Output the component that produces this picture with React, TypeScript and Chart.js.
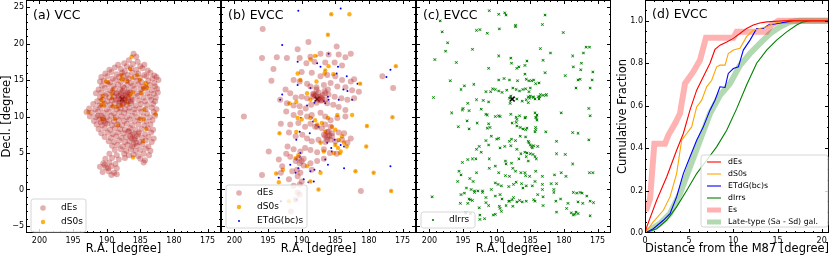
import React, { useEffect, useRef } from 'react';
import { Chart, registerables } from 'chart.js';
Chart.register(...registerables);

type Pt = [number, number];
const FONT = '"DejaVu Sans", "Liberation Sans", sans-serif';

// ---------------- tick labels ----------------
const RA_TICKS = [200, 195, 190, 185, 180, 175];
const DEC_TICKS = [-5, 0, 5, 10, 15, 20, 25];
const DIST_TICKS = [0, 5, 10, 15, 20];
const FRAC_TICKS = [0, 0.2, 0.4, 0.6, 0.8, 1.0];

// ---------------- M87 ----------------
const M87: Pt[] = [[187.7, 12.39]];

// ---------------- (a) VCC ----------------
const vccDEs: Pt[] = [
  [186.0,18.6],[185.6,18.2],[186.7,17.7],[185.4,17.5],[187.4,17.3],
  [188.3,17.1],[187.0,16.9],[186.1,17.2],[185.0,16.9],[184.4,17.1],
  [189.6,16.4],[188.8,16.7],[187.9,16.5],[187.3,16.2],[186.4,16.6],[185.6,16.4],[184.7,16.6],[183.9,16.3],
  [190.2,15.9],[189.3,16.1],[188.5,15.8],[187.7,16.0],[186.9,15.7],[186.2,16.0],[185.3,15.9],[184.4,15.7],[183.5,16.0],[182.9,15.6],
  [190.8,15.4],[189.9,15.5],[189.1,15.2],[188.2,15.4],[187.5,15.5],[186.7,15.2],[185.8,15.4],[185.0,15.3],[184.1,15.5],[183.2,15.2],[182.6,15.4],
  [191.0,14.8],[190.4,14.9],[189.5,14.7],[188.7,15.0],[187.9,14.8],[187.1,14.9],[186.4,14.6],[185.6,14.9],[184.8,14.7],[183.8,14.9],[182.9,14.6],[182.3,15.0],
  [190.7,14.2],[189.8,14.4],[189.0,14.2],[188.3,14.4],[187.6,14.1],[186.9,14.3],[186.1,14.2],[185.3,14.4],[184.5,14.1],[183.6,14.3],[182.8,14.1],
  [191.2,13.7],[190.3,13.9],[189.5,13.6],[188.8,13.8],[188.0,13.7],[187.4,13.9],[186.7,13.6],[185.9,13.8],[185.0,13.7],[184.2,13.9],[183.3,13.6],[182.5,13.8],
  [191.6,13.2],[190.8,13.3],[190.0,13.1],[189.2,13.3],[188.5,13.2],[187.8,13.3],[187.1,13.1],[186.5,13.3],[185.6,13.1],[184.8,13.3],[183.9,13.2],[183.0,13.1],[182.4,13.3],
  [191.0,12.6],[190.2,12.8],[189.6,12.6],[188.9,12.7],[188.2,12.8],[187.6,12.6],[187.0,12.8],[186.3,12.6],[185.4,12.8],[184.5,12.6],[183.6,12.7],[182.7,12.6],
  [191.4,12.1],[190.6,12.3],[189.9,12.1],[189.2,12.2],[188.6,12.3],[188.0,12.1],[187.4,12.3],[186.8,12.1],[186.1,12.3],[185.2,12.2],[184.3,12.1],[183.4,12.3],[182.8,12.1],
  [192.0,11.7],[191.1,11.5],[190.3,11.7],[189.5,11.6],[188.8,11.8],[188.2,11.5],[187.6,11.7],[187.0,11.6],[186.4,11.8],[185.7,11.5],[184.9,11.7],[184.0,11.6],[183.1,11.7],
  [192.6,11.1],[191.7,11.0],[190.9,11.2],[190.0,11.0],[189.2,11.2],[188.5,11.0],[187.9,11.1],[187.3,11.0],[186.6,11.2],[185.9,11.0],[185.1,11.1],[184.2,11.0],[183.3,11.2],[182.6,11.0],
  [193.0,10.6],[192.2,10.5],[191.3,10.7],[190.5,10.5],[189.7,10.6],[188.9,10.4],[188.1,10.6],[187.4,10.5],[186.7,10.7],[185.8,10.5],[184.9,10.6],[184.0,10.4],[183.0,10.6],
  [192.5,10.0],[191.6,9.9],[190.8,10.1],[190.0,9.9],[189.3,10.1],[188.6,9.9],[187.8,10.0],[187.0,9.9],[186.2,10.1],[185.4,9.9],[184.5,10.0],[183.6,9.9],[182.8,10.1],
  [191.9,9.4],[191.1,9.6],[190.4,9.4],[189.6,9.5],[188.9,9.3],[188.2,9.5],[187.4,9.4],[186.6,9.6],[185.8,9.4],[185.0,9.5],[184.1,9.3],[183.2,9.5],
  [191.5,8.9],[190.7,8.8],[189.9,9.0],[189.2,8.8],[188.4,8.9],[187.7,8.8],[187.0,9.0],[186.2,8.8],[185.3,8.9],[184.4,8.8],[183.5,8.9],
  [191.2,8.3],[190.3,8.4],[189.5,8.2],[188.8,8.4],[188.0,8.3],[187.3,8.2],[186.5,8.4],[185.7,8.2],[184.8,8.3],[183.9,8.4],[183.1,8.2],
  [190.8,7.7],[189.9,7.8],[189.1,7.6],[188.3,7.8],[187.5,7.7],[186.8,7.9],[186.0,7.7],[185.2,7.8],[184.3,7.6],[183.4,7.8],
  [190.3,7.2],[189.4,7.1],[188.6,7.3],[187.8,7.1],[187.1,7.2],[186.3,7.0],[185.5,7.3],[184.7,7.1],[183.8,7.2],[183.0,7.0],
  [189.7,6.6],[188.9,6.5],[188.1,6.7],[187.3,6.5],[186.6,6.6],[185.9,6.8],[185.1,6.5],[184.2,6.7],[183.3,6.5],
  [189.2,6.0],[188.4,6.1],[187.6,5.9],[186.9,6.1],[186.2,5.9],[185.5,6.0],[184.7,6.2],[183.8,5.9],
  [188.8,5.4],[187.9,5.5],[187.1,5.3],[186.4,5.5],[185.7,5.3],[185.0,5.4],[184.2,5.6],[183.5,5.3],
  [189.6,4.9],[188.5,4.7],[187.4,4.9],[186.7,4.7],[186.0,4.8],[185.3,4.6],[184.5,4.9],[183.7,4.7],
  [190.2,4.2],[189.2,4.3],[188.2,4.1],[187.3,4.3],[185.0,4.2],[184.3,4.0],
  [190.5,3.6],[189.6,3.7],[188.7,3.5],[184.5,3.7],
  [191.0,3.1],[190.1,3.0],[189.3,3.2],[188.5,2.9],
  [190.6,2.4],[189.7,2.5],[188.9,2.3],
  [189.3,2.0],[188.5,2.1],
  [187.8,12.6],[187.4,12.2],[187.9,13.0],[187.2,12.9],[188.3,12.4],[186.8,12.5],[187.5,11.8],[188.1,11.9],[186.9,13.3],[187.6,13.5],[188.6,13.1],[186.4,12.1],
  [186.2,7.5],[185.8,7.0],[186.5,7.3],[185.6,6.4],[186.0,6.2],[185.3,7.6],[186.7,8.0],
  [190.5,9.8],[190.9,9.2],[191.3,10.1],[190.2,9.1],[190.3,3.4],[189.8,2.9],
];

const vccDS0s: Pt[] = [
  [186.3,18.2],[186.5,16.5],[187.8,15.7],[190.1,14.8],[189.8,14.7],[187.8,15.1],[187.5,15.1],[185.5,15.7],
  [186.2,15.3],[185.1,15.0],[184.1,14.45],[184.2,14.6],[186.9,14.8],[189.1,13.7],[189.2,13.1],[189.2,12.5],
  [190.6,12.8],[190.8,12.3],[190.6,11.9],[190.8,11.6],[190.4,11.5],[189.1,11.4],[188.5,11.3],[187.8,11.5],
  [187.1,12.4],[186.9,11.9],[186.6,12.9],[186.4,13.1],[186.1,13.3],[184.6,13.9],[184.0,13.9],[184.9,13.2],
  [184.5,13.8],[184.4,10.95],[192.7,10.6],[188.8,9.7],[190.7,9.7],[190.4,9.6],[188.3,8.8],[185.1,9.7],
  [184.5,9.6],[182.7,10.3],[184.1,8.3],[184.6,6.6],[186.1,4.4],
];

// ---------------- (b) EVCC ----------------
const evccDEs: Pt[] = [
  [195.8,22.0],[189.0,20.2],[184.8,19.6],[195.9,18.0],[193.7,18.1],[190.6,19.2],[194.2,16.5],[194.5,14.9],
  [198.6,10.0],[195.9,2.0],[192.2,18.0],[190.3,18.0],[188.7,18.2],[187.2,18.6],[186.0,18.5],[184.5,18.5],
  [183.5,18.1],[182.7,18.6],[190.0,16.1],[188.5,16.0],[187.2,15.5],[186.2,15.7],[185.0,15.5],[184.0,15.0],
  [182.7,14.8],[182.2,15.1],[178.0,15.5],[176.4,13.9],[189.3,17.3],[188.1,17.5],[186.5,17.4],[185.1,17.4],
  [184.0,17.0],[191.2,15.0],[190.3,14.8],[189.2,14.5],[188.7,14.1],[187.8,14.0],[186.7,14.3],[185.7,14.6],
  [184.7,14.1],[183.5,14.0],[182.5,13.6],[181.5,13.4],[192.4,13.7],[191.7,13.2],[190.9,12.6],[190.0,12.7],
  [189.2,12.5],[188.2,13.0],[187.5,13.3],[186.6,13.5],[186.0,13.0],[185.1,12.7],[184.1,12.5],[183.2,12.3],
  [182.2,12.5],[193.2,12.3],[192.2,11.8],[191.2,11.5],[190.3,11.4],[189.4,11.1],[188.6,11.6],[187.8,11.9],
  [187.0,12.2],[186.2,11.8],[185.3,11.6],[184.5,11.3],[183.5,10.9],[192.3,10.7],[191.2,10.2],[190.2,10.5],
  [189.2,10.0],[188.5,10.2],[187.2,10.5],[186.5,10.0],[185.7,9.5],[184.7,9.8],[183.5,10.0],[193.1,9.0],
  [191.7,8.9],[190.5,9.1],[189.5,8.6],[188.7,9.0],[187.7,8.6],[187.0,8.4],[186.2,7.9],[185.5,7.7],
  [184.5,7.8],[183.7,7.7],[182.7,7.0],[191.9,7.8],[190.9,7.3],[189.9,7.5],[189.2,7.0],[188.5,6.6],
  [187.5,6.8],[186.5,7.3],[185.7,6.8],[185.0,6.6],[184.0,6.8],[183.2,6.4],[192.1,5.9],[191.2,5.5],
  [190.2,5.2],[189.5,5.7],[188.7,5.4],[187.7,5.1],[186.7,5.5],[185.8,5.0],[184.8,4.9],[192.3,4.9],
  [193.4,4.1],[191.7,4.5],[190.9,3.9],[190.3,3.6],[189.7,4.2],[188.7,3.6],[187.7,3.9],[186.7,4.2],
  [190.7,2.7],[190.2,2.3],[191.4,2.5],[192.9,3.2],[191.9,1.4],[190.6,1.8],[190.0,1.1],[191.2,0.5],
  [190.3,0.7],[193.1,2.3],[188.5,2.7],[194.9,5.2],[181.2,-0.2],[190.6,-0.4],[190.9,-1.4],[191.6,-3.0],
  [190.3,-0.7],[187.0,12.5],[186.5,13.2],[186.1,13.7],[187.8,13.7],[187.2,12.7],[188.3,12.7],[187.5,12.3],
  [186.5,12.3],[188.0,8.6],[186.0,7.9],[186.7,7.5],[185.5,7.3],[186.2,6.8],[186.5,8.9],[185.7,8.6],
  [188.0,12.8],[187.5,12.6],[187.9,13.0],[187.2,12.2],[186.9,12.9],[188.3,13.1],[186.2,7.2],[186.5,6.5],
  [185.9,7.4],[190.4,4.3],[190.0,3.9],[189.7,3.3],
];

const evccDS0s: Pt[] = [
  [185.6,24.0],[182.9,24.0],[186.1,21.2],[188.0,18.3],[188.7,17.8],[186.5,16.3],[186.6,15.9],[185.3,15.8],
  [186.0,16.9],[190.6,15.9],[190.2,15.0],[181.3,14.5],[176.0,16.9],[187.8,14.8],[191.8,11.8],[190.8,12.0],
  [189.2,13.2],[188.7,12.3],[190.6,9.8],[190.0,9.6],[188.7,9.8],[188.0,9.5],[187.7,8.9],[187.0,9.1],
  [186.1,9.8],[184.7,10.2],[182.5,10.2],[180.3,8.7],[176.5,9.9],[193.3,7.7],[190.8,7.9],[185.5,8.6],
  [185.0,8.2],[186.5,7.9],[187.2,6.4],[186.7,5.2],[185.0,6.1],[184.6,5.7],[184.3,5.0],[185.2,5.0],
  [184.5,6.8],[184.0,7.3],[183.7,6.4],[183.3,5.9],[184.2,5.2],[192.8,2.7],[189.2,3.2],[187.2,2.3],
  [182.0,2.5],[179.3,2.3],[188.7,1.1],[187.5,0.0],[180.4,5.9],[190.5,4.7],[190.9,4.3],[176.7,-0.2],
  [191.9,-1.6],[193.8,2.2],[193.4,1.0],
];

const evccETdG: Pt[] = [
  [190.5,24.5],[184.2,24.8],[192.9,19.8],[190.6,17.5],[187.8,18.3],[187.7,17.3],[187.2,16.8],[186.5,16.3],
  [186.0,18.6],[184.8,15.9],[183.3,15.5],[181.7,14.5],[184.6,16.8],[176.8,16.4],[177.4,15.4],[192.9,13.0],
  [193.2,12.3],[190.6,14.3],[188.7,13.9],[186.1,12.7],[186.7,12.1],[186.5,11.8],[186.0,12.3],[188.1,11.9],
  [189.2,11.5],[182.5,12.3],[184.5,12.3],[183.2,13.5],[183.8,13.7],[190.1,9.8],[188.5,9.8],[187.5,8.6],
  [188.3,9.3],[190.3,7.9],[190.8,6.8],[188.8,7.7],[186.2,6.4],[185.1,6.8],[184.5,6.6],[184.2,6.1],
  [183.7,5.9],[185.6,5.7],[185.5,5.2],[190.3,4.5],[190.8,4.1],[190.2,5.0],[191.7,3.4],[190.5,2.9],
  [188.7,2.5],[188.1,2.7],[187.3,2.5],[186.5,4.1],[186.1,3.4],[183.7,2.9],[176.8,3.2],[193.7,2.2],
  [193.4,1.6],[190.9,2.3],[189.7,1.4],[189.0,1.0],[188.2,1.1],[193.1,-1.6],[190.8,-1.4],
  [185.6,24.0],[186.1,21.2],[176.0,16.9],[180.3,8.7],[176.5,9.9],[180.4,5.9],[179.3,2.3],[182.0,2.5],
  [176.7,-0.2],[187.5,0.0],[193.3,7.7],[181.3,14.5],[184.3,5.0],[185.0,6.1],[187.2,6.4],[188.7,1.1],[190.9,4.3],
];

// ---------------- (c) EVCC dIrrs ----------------
const evccDIrrs: Pt[] = [
  [191.1,24.5],[189.7,24.0],[188.8,24.2],[188.6,23.9],[182.8,23.9],[198.4,23.1],[187.2,22.5],[187.2,22.3],
  [183.2,22.6],[198.1,21.6],[193.0,21.8],[192.5,21.9],[191.4,21.4],[189.6,22.0],[180.1,21.5],[197.3,20.1],
  [197.6,18.95],[193.6,19.2],[183.5,19.3],[182.0,18.7],[176.7,19.5],[176.2,19.5],[177.1,18.7],[199.2,17.8],
  [196.0,17.4],[189.7,18.3],[187.9,18.0],[185.5,17.6],[183.1,17.7],[178.7,18.3],[187.8,17.3],[187.0,16.6],
  [186.7,16.8],[185.8,17.0],[191.2,16.6],[178.6,16.8],[177.4,17.3],[177.5,16.4],[175.7,16.1],[182.8,16.0],
  [185.8,15.8],[179.8,15.6],[177.9,15.0],[177.6,15.1],[196.9,14.9],[193.4,14.4],[189.7,15.0],[188.9,15.2],
  [188.1,15.0],[186.9,14.9],[185.6,15.1],[185.2,14.9],[184.8,14.9],[184.5,15.0],[184.2,14.5],[183.7,14.6],
  [195.3,13.7],[194.8,14.2],[190.6,13.8],[190.2,13.7],[189.7,13.5],[189.2,13.3],[188.5,13.6],[187.6,13.9],
  [187.1,13.7],[186.6,13.5],[186.1,13.7],[185.7,13.8],[185.2,13.4],[185.0,13.9],[183.5,13.0],[183.1,12.9],
  [182.7,12.9],[182.6,13.0],[185.3,12.7],[185.0,12.8],[184.6,12.7],[183.8,12.7],[183.7,12.4],[178.2,13.9],
  [176.1,13.9],[175.8,15.0],[191.6,13.4],[190.9,13.4],[199.4,12.6],[193.0,12.3],[192.0,12.2],[191.2,12.0],
  [194.3,11.8],[188.1,12.5],[187.9,12.8],[188.0,11.8],[187.0,12.4],[186.2,12.1],[185.6,12.3],[185.3,11.9],
  [185.1,12.5],[184.5,12.6],[184.3,12.4],[183.6,12.7],[195.0,11.1],[195.1,10.9],[194.1,10.8],[192.3,11.0],
  [191.4,10.2],[191.6,10.3],[190.2,10.0],[189.7,10.1],[189.5,10.0],[187.9,10.3],[187.1,9.9],[187.0,9.6],
  [186.6,10.1],[185.8,9.8],[185.7,9.9],[184.3,10.5],[184.2,9.9],[184.1,9.8],[184.0,10.2],[184.0,9.5],
  [196.7,10.5],[195.7,8.6],[194.4,9.4],[194.1,8.3],[192.9,9.1],[191.2,9.0],[191.4,8.4],[191.0,8.5],
  [187.7,9.1],[187.1,9.2],[187.0,8.7],[186.5,8.5],[186.1,8.3],[185.7,8.2],[185.5,8.4],[184.2,8.5],
  [184.3,7.9],[184.2,8.2],[176.1,10.1],[176.3,11.1],[180.4,10.5],[190.0,6.9],[189.7,7.0],[190.8,7.3],
  [191.2,6.1],[191.6,6.7],[192.6,5.9],[193.0,5.5],[192.3,5.1],[189.5,5.7],[188.8,5.9],[187.9,6.0],
  [187.2,6.7],[186.5,7.3],[185.7,7.2],[185.3,6.6],[185.2,6.4],[185.0,6.1],[184.8,5.9],[184.7,5.7],
  [184.5,6.0],[183.9,5.9],[187.0,5.5],[186.4,4.9],[185.8,5.1],[185.5,5.0],[185.0,4.9],[184.6,4.8],
  [184.3,4.5],[187.8,6.9],[188.1,6.6],[182.7,7.9],[178.7,7.8],[177.9,7.7],[181.1,6.6],[176.3,6.8],
  [181.1,4.9],[179.8,4.8],[195.1,3.7],[194.3,4.1],[193.6,4.2],[193.1,4.2],[191.1,4.2],[188.7,3.9],
  [188.6,3.5],[187.8,3.6],[186.7,4.2],[185.6,4.5],[185.3,3.9],[184.1,4.2],[195.6,2.5],[195.3,2.0],
  [195.8,1.1],[194.0,1.5],[193.5,1.1],[193.0,2.3],[191.1,2.9],[190.2,3.2],[189.7,2.3],[188.7,1.9],
  [188.1,1.8],[187.6,2.9],[187.2,2.5],[186.4,2.3],[185.8,2.3],[185.7,1.9],[185.1,1.8],[184.2,2.5],
  [183.2,1.8],[181.4,2.0],[180.4,2.3],[179.7,1.8],[178.7,3.5],[176.2,2.3],[175.7,2.3],[194.5,0.2],
  [193.8,0.0],[193.3,-0.2],[192.8,-0.2],[192.1,-0.2],[190.8,0.0],[190.2,0.9],[189.8,0.7],[189.3,0.5],
  [188.2,0.4],[187.5,0.7],[187.1,1.0],[186.3,0.8],[186.1,0.2],[185.6,0.5],[184.7,0.5],[184.3,1.1],
  [183.2,0.7],[183.2,0.0],[181.9,0.8],[181.5,0.0],[181.5,-0.4],[181.1,0.8],[178.6,-0.4],[178.1,-0.5],
  [177.6,-0.4],[177.3,-0.5],[176.6,-0.9],[199.6,-1.0],[195.3,-0.7],[194.8,-0.5],[194.1,-1.3],[193.9,-1.4],
  [193.6,-1.5],[193.3,-0.4],[192.1,-0.4],[191.6,-1.1],[190.2,-0.9],[189.5,-0.7],[189.2,-1.3],[188.1,-1.6],
  [187.7,-1.4],[187.5,-1.1],[187.0,-1.7],[186.6,-1.5],[185.6,-1.6],[184.5,-1.4],[183.9,-0.7],[184.3,-1.6],
  [183.1,-1.0],[181.2,-1.6],[180.5,-1.3],[179.4,-1.9],[177.9,-1.7],[177.2,-1.9],[176.1,-1.6],[175.6,-1.8],
  [195.4,-1.9],[194.3,-1.9],[192.6,-2.5],[191.6,-1.8],[191.2,-2.2],[189.6,-2.3],[189.5,-2.6],[189.3,-3.0],
  [188.6,-2.2],[188.2,-1.6],[187.6,-2.3],[186.2,-1.7],[183.1,-2.2],[181.1,-3.1],[179.6,-2.6],[178.9,-3.2],
  [178.6,-3.5],[178.4,-3.4],[178.2,-3.1],[177.9,-3.3],[194.6,-3.2],[193.9,-3.3],[192.5,-3.5],[192.5,-4.1],
  [191.8,-4.0],[190.5,-3.5],[190.2,-3.4],[176.1,-3.6],
];

// ---------------- (d) cumulative fractions ----------------
const cumDEs: Pt[] = [
  [0,0],[0.19,0.028],[1.32,0.154],[2.45,0.264],[3.58,0.39],[4.34,0.469],[5.09,0.579],[5.85,0.673],[6.6,0.736],
  [7.36,0.80],[7.92,0.865],[8.49,0.885],[9.25,0.90],[10.0,0.917],[10.75,0.94],[11.5,0.964],[12.26,0.98],
  [13.0,0.99],[13.8,0.995],[15.7,1.0],[21,1.0],
];
const cumDS0s: Pt[] = [
  [0,0],[0.94,0.052],[2.08,0.107],[2.83,0.17],[3.58,0.28],[4.15,0.437],[4.72,0.469],[5.28,0.50],[5.85,0.594],
  [6.42,0.626],[6.98,0.689],[7.55,0.72],[8.11,0.783],[8.49,0.791],[9.06,0.791],[9.43,0.846],[10.0,0.862],
  [10.75,0.87],[11.5,0.925],[12.26,0.956],[13.0,0.964],[13.77,0.972],[14.5,0.987],[16.0,1.0],[21,1.0],
];
const cumETdG: Pt[] = [
  [0,0],[0.94,0.02],[2.08,0.06],[2.83,0.091],[3.58,0.17],[4.34,0.28],[5.09,0.358],[5.85,0.437],[6.6,0.50],
  [7.36,0.579],[7.92,0.626],[8.49,0.689],[9.06,0.686],[9.43,0.752],[10.0,0.775],[10.57,0.783],[11.13,0.862],
  [11.89,0.909],[12.64,0.964],[13.4,0.964],[13.96,0.98],[14.53,0.984],[16.0,0.995],[16.8,1.0],[21,1.0],
];
const cumDIrrs: Pt[] = [
  [0,0],[1.32,0.02],[2.45,0.06],[3.58,0.123],[4.72,0.20],[5.85,0.28],[6.98,0.343],[8.11,0.406],[9.25,0.484],
  [10.38,0.586],[11.5,0.697],[12.64,0.80],[13.77,0.862],[14.9,0.909],[16.04,0.948],[17.17,0.98],[17.9,0.995],
  [18.7,1.0],[21,1.0],
];
const cumEs: Pt[] = [
  [0,0.115],[0.19,0.115],[0.57,0.162],[1.06,0.42],[2.26,0.42],[2.64,0.46],[3.4,0.516],[3.96,0.563],[4.53,0.705],
  [5.47,0.76],[6.23,0.815],[6.9,0.92],[10.0,0.92],[10.38,0.948],[13.77,0.948],[14.3,0.98],[15.1,1.0],[21,1.0],
];
const cumLate: Pt[] = [
  [0,0],[1.7,0.044],[2.83,0.091],[3.96,0.186],[5.09,0.311],[6.23,0.437],[7.36,0.563],[8.49,0.649],[9.62,0.704],
  [10.75,0.79],[11.89,0.846],[13.0,0.893],[14.15,0.94],[15.28,0.972],[16.4,0.995],[17.5,1.0],[21,1.0],
];

// ---------------- styles ----------------
const C_DES = 'rgba(178,34,34,0.36)';
const C_DS0 = 'rgba(255,165,0,0.88)';
const C_ETDG = '#0000ff';
const C_DIRR = '#008000';

const toXY = (a: Pt[]) => a.map(([x, y]) => ({ x, y }));

const minorVals = (min: number, max: number, step: number) => {
  const out: number[] = [];
  for (let i = Math.ceil(min / step - 1e-9); i * step <= max + 1e-9; i++) out.push(i * step);
  return out;
};

const decorPlugin = {
  id: 'decor',
  afterDatasetsDraw(chart: any) {
    const o = chart.options.plugins.decor;
    if (!o || !o.on) return;
    const { ctx, chartArea: ca } = chart;
    const xs = chart.scales.x;
    const ys = chart.scales.y;
    const L = ca.left, R = ca.right, T = ca.top, B = ca.bottom;
    ctx.save();
    ctx.strokeStyle = '#000';
    ctx.lineWidth = 1;
    const seg = (x1: number, y1: number, x2: number, y2: number) => {
      ctx.beginPath(); ctx.moveTo(x1, y1); ctx.lineTo(x2, y2); ctx.stroke();
    };
    const xt = (vals: number[], len: number) => vals.forEach((v) => {
      const p = Math.round(xs.getPixelForValue(v)) + 0.5;
      if (p < L || p > R) return;
      seg(p, B, p, B - len); seg(p, T, p, T + len);
    });
    const yt = (vals: number[], len: number) => vals.forEach((v) => {
      const p = Math.round(ys.getPixelForValue(v)) + 0.5;
      if (p < T || p > B) return;
      seg(L, p, L + len, p); seg(R, p, R - len, p);
    });
    xt(minorVals(xs.min, xs.max, o.xMinor), 2);
    xt(o.xMajor, 4);
    yt(minorVals(ys.min, ys.max, o.yMinor), 2);
    yt(o.yMajor, 4);
    ctx.strokeRect(L + 0.5, T + 0.5, R - L - 1, B - T - 1);

    ctx.fillStyle = '#000';
    ctx.font = `12.5px ${FONT}`;
    ctx.textBaseline = 'top';
    ctx.textAlign = 'left';
    ctx.fillText(o.label, L + o.labelDx, T + o.labelDy);

    const lg = o.legend;
    if (lg) {
      const r = 2.5;
      ctx.beginPath();
      ctx.moveTo(lg.x + r, lg.y);
      ctx.lineTo(lg.x + lg.w - r, lg.y);
      ctx.quadraticCurveTo(lg.x + lg.w, lg.y, lg.x + lg.w, lg.y + r);
      ctx.lineTo(lg.x + lg.w, lg.y + lg.h - r);
      ctx.quadraticCurveTo(lg.x + lg.w, lg.y + lg.h, lg.x + lg.w - r, lg.y + lg.h);
      ctx.lineTo(lg.x + r, lg.y + lg.h);
      ctx.quadraticCurveTo(lg.x, lg.y + lg.h, lg.x, lg.y + lg.h - r);
      ctx.lineTo(lg.x, lg.y + r);
      ctx.quadraticCurveTo(lg.x, lg.y, lg.x + r, lg.y);
      ctx.closePath();
      ctx.fillStyle = 'rgba(255,255,255,0.8)';
      ctx.fill();
      ctx.strokeStyle = '#cccccc';
      ctx.lineWidth = 0.8;
      ctx.stroke();
      lg.rows.forEach((it: any) => {
        const yy = lg.y + it.dy;
        if (it.kind === 'circle') {
          ctx.fillStyle = it.color;
          ctx.beginPath(); ctx.arc(lg.x + lg.markerX, yy, it.r, 0, Math.PI * 2); ctx.fill();
        } else {
          ctx.strokeStyle = it.color; ctx.lineWidth = it.lw;
          ctx.beginPath(); ctx.moveTo(lg.x + lg.lineX0, yy); ctx.lineTo(lg.x + lg.lineX1, yy); ctx.stroke();
        }
        ctx.fillStyle = '#000';
        ctx.font = `${lg.fontSize}px ${FONT}`;
        ctx.textBaseline = 'middle';
        ctx.fillText(it.label, lg.x + lg.textX, yy);
      });
    }
    ctx.restore();
  },
};

const negFmt = (v: any) => (Number(v) < 0 ? '\u2212' + Math.abs(Number(v)) : String(v));

function xScale(min: number, max: number, reverse: boolean, ticks: number[], title: string, fmt: (v: any) => string) {
  return {
    type: 'linear',
    min, max, reverse,
    afterBuildTicks: (s: any) => { s.ticks = ticks.map((v) => ({ value: v })); },
    afterFit: (s: any) => { s.height = 23; s.paddingLeft = 0; s.paddingRight = 0; },
    grid: { display: false, drawTicks: false },
    border: { display: false },
    ticks: { color: '#000', font: { family: FONT, size: 8 }, padding: 3, maxRotation: 0, minRotation: 0, autoSkip: false, callback: fmt },
    title: { display: true, text: title, color: '#000', font: { family: FONT, size: 11.5 }, padding: 0 },
  };
}

function yScale(min: number, max: number, ticks: number[], show: boolean, width: number, title: string, fmt: (v: any) => string, titlePad: number, tickPad: number) {
  return {
    type: 'linear',
    display: show,
    min, max,
    afterBuildTicks: (s: any) => { s.ticks = ticks.map((v) => ({ value: v })); },
    afterFit: (s: any) => { s.width = width; s.paddingTop = 0; s.paddingBottom = 0; },
    grid: { display: false, drawTicks: false },
    border: { display: false },
    ticks: { color: '#000', font: { family: FONT, size: 8 }, padding: tickPad, autoSkip: false, callback: fmt },
    title: { display: true, text: title, color: '#000', font: { family: FONT, size: 11.5 }, padding: { top: titlePad, bottom: 0 } },
  };
}

const W = 830, H = 256;
const DEC_MIN = -5.96, DEC_MAX = 25.96;
const RA_MIN = 173.0, RA_MAX = 202.0;

function scatterDs(data: Pt[], color: string, r: number) {
  return { data: toXY(data), backgroundColor: color, borderColor: color, borderWidth: 0, pointRadius: r, pointHoverRadius: r };
}
function m87Ds() {
  return { data: toXY(M87), pointStyle: 'crossRot', pointRadius: 3.5, borderColor: '#000', backgroundColor: '#000', borderWidth: 1.6 };
}

function baseOptions(left: number, right: number, yWidth: number, scales: any, decor: any) {
  return {
    responsive: false,
    animation: false,
    events: [],
    layout: { padding: { left: left - yWidth, right: W - right, top: 0, bottom: 0 }, autoPadding: false },
    plugins: { legend: { display: false }, tooltip: { enabled: false }, decor },
    scales,
  };
}

function buildConfigs(): any[] {
  const a = {
    type: 'scatter',
    data: { datasets: [scatterDs(vccDEs, C_DES, 3), scatterDs(vccDS0s, C_DS0, 2.2), m87Ds()] },
    options: baseOptions(26, 221, 26, {
      x: xScale(RA_MIN, RA_MAX, true, RA_TICKS, 'R.A. [degree]', negFmt),
      y: yScale(DEC_MIN, DEC_MAX, DEC_TICKS, true, 26, 'Decl. [degree]', negFmt, 0, 2),
    }, {
      on: true, xMinor: 1, yMinor: 1, xMajor: RA_TICKS, yMajor: DEC_TICKS, label: '(a) VCC', labelDx: 7, labelDy: 9,
      legend: { x: 31, y: 199, w: 55, h: 33, fontSize: 9, markerX: 12, textX: 30, rows: [
        { kind: 'circle', color: C_DES, r: 2.8, label: 'dEs', dy: 9 },
        { kind: 'circle', color: C_DS0, r: 2.2, label: 'dS0s', dy: 23 },
      ] },
    }),
    plugins: [decorPlugin],
  };
  const b = {
    type: 'scatter',
    data: { datasets: [scatterDs(evccDEs, C_DES, 3), scatterDs(evccDS0s, C_DS0, 2.2), scatterDs(evccETdG, C_ETDG, 1), m87Ds()] },
    options: baseOptions(221, 416, 0, {
      x: xScale(RA_MIN, RA_MAX, true, RA_TICKS, 'R.A. [degree]', negFmt),
      y: yScale(DEC_MIN, DEC_MAX, DEC_TICKS, false, 0, '', negFmt, 0, 2),
    }, {
      on: true, xMinor: 1, yMinor: 1, xMajor: RA_TICKS, yMajor: DEC_TICKS, label: '(b) EVCC', labelDx: 7, labelDy: 9,
      legend: { x: 226, y: 185, w: 81, h: 43, fontSize: 9, markerX: 13, textX: 31, rows: [
        { kind: 'circle', color: C_DES, r: 2.8, label: 'dEs', dy: 8 },
        { kind: 'circle', color: C_DS0, r: 2.2, label: 'dS0s', dy: 22 },
        { kind: 'circle', color: C_ETDG, r: 1, label: 'ETdG(bc)s', dy: 36 },
      ] },
    }),
    plugins: [decorPlugin],
  };
  const c = {
    type: 'scatter',
    data: { datasets: [
      { data: toXY(evccDIrrs), pointStyle: 'rect', pointRadius: 2.2, borderWidth: 0, backgroundColor: 'rgba(0,128,0,0.18)', borderColor: 'rgba(0,128,0,0)' },
      { data: toXY(evccDIrrs), pointStyle: 'crossRot', pointRadius: 1.6, borderColor: C_DIRR, backgroundColor: C_DIRR, borderWidth: 1 },
      m87Ds(),
    ] },
    options: baseOptions(416, 611, 0, {
      x: xScale(RA_MIN, RA_MAX, true, RA_TICKS, 'R.A. [degree]', negFmt),
      y: yScale(DEC_MIN, DEC_MAX, DEC_TICKS, false, 0, '', negFmt, 0, 2),
    }, {
      on: true, xMinor: 1, yMinor: 1, xMajor: RA_TICKS, yMajor: DEC_TICKS, label: '(c) EVCC', labelDx: 7, labelDy: 9,
      legend: { x: 421, y: 212, w: 54, h: 16, fontSize: 9, markerX: 12, textX: 28, rows: [
        { kind: 'circle', color: C_DIRR, r: 1.1, label: 'dIrrs', dy: 8 },
      ] },
    }),
    plugins: [decorPlugin],
  };
  const line = (data: Pt[], color: string, w: number) => ({
    data: toXY(data), showLine: true, borderColor: color, backgroundColor: color, borderWidth: w, pointRadius: 0, fill: false, tension: 0,
  });
  const d = {
    type: 'scatter',
    data: { datasets: [
      line(cumDEs, '#ff0000', 1.1),
      line(cumDS0s, '#ffa500', 1.1),
      line(cumETdG, '#0000ff', 1.1),
      line(cumDIrrs, '#008000', 1.1),
      line(cumEs, 'rgba(255,0,0,0.3)', 6),
      line(cumLate, 'rgba(0,128,0,0.3)', 6),
    ] },
    options: baseOptions(645, 829, 34, {
      x: xScale(0, 20.83, false, DIST_TICKS, 'Distance from the M87 [degree]', (v: any) => String(v)),
      y: yScale(0, 1.098, FRAC_TICKS, true, 34, 'Cumulative Fraction', (v: any) => Number(v).toFixed(1), 5, 2),
    }, {
      on: true, xMinor: 1, yMinor: 0.05, xMajor: DIST_TICKS, yMajor: FRAC_TICKS, label: '(d) EVCC', labelDx: 7, labelDy: 8,
      legend: { x: 701, y: 155, w: 127, h: 72, fontSize: 7.8, lineX0: 6, lineX1: 20, textX: 27, rows: [
        { kind: 'line', color: '#ff0000', lw: 1.1, label: 'dEs', dy: 7 },
        { kind: 'line', color: '#ffa500', lw: 1.1, label: 'dS0s', dy: 19 },
        { kind: 'line', color: '#0000ff', lw: 1.1, label: 'ETdG(bc)s', dy: 31 },
        { kind: 'line', color: '#008000', lw: 1.1, label: 'dIrrs', dy: 43 },
        { kind: 'line', color: 'rgba(255,0,0,0.3)', lw: 5, label: 'Es', dy: 55 },
        { kind: 'line', color: 'rgba(0,128,0,0.3)', lw: 5, label: 'Late-type (Sa - Sd) gal.', dy: 67 },
      ] },
    }),
    plugins: [decorPlugin],
  };
  return [a, b, c, d];
}

export default function App() {
  const r0 = useRef<HTMLCanvasElement>(null);
  const r1 = useRef<HTMLCanvasElement>(null);
  const r2 = useRef<HTMLCanvasElement>(null);
  const r3 = useRef<HTMLCanvasElement>(null);
  useEffect(() => {
    const refs = [r0, r1, r2, r3];
    const cfgs = buildConfigs();
    const charts = cfgs.map((cfg, i) => new Chart(refs[i].current as HTMLCanvasElement, cfg));
    return () => charts.forEach((c) => c.destroy());
  }, []);
  const st: React.CSSProperties = { position: 'absolute', left: 0, top: 0, width: W, height: H };
  return (
    <div style={{ position: 'fixed', left: 0, top: 0, width: W, height: H, background: '#fff', overflow: 'hidden' }}>
      <canvas ref={r0} width={W} height={H} style={st} />
      <canvas ref={r1} width={W} height={H} style={st} />
      <canvas ref={r2} width={W} height={H} style={st} />
      <canvas ref={r3} width={W} height={H} style={st} />
    </div>
  );
}
